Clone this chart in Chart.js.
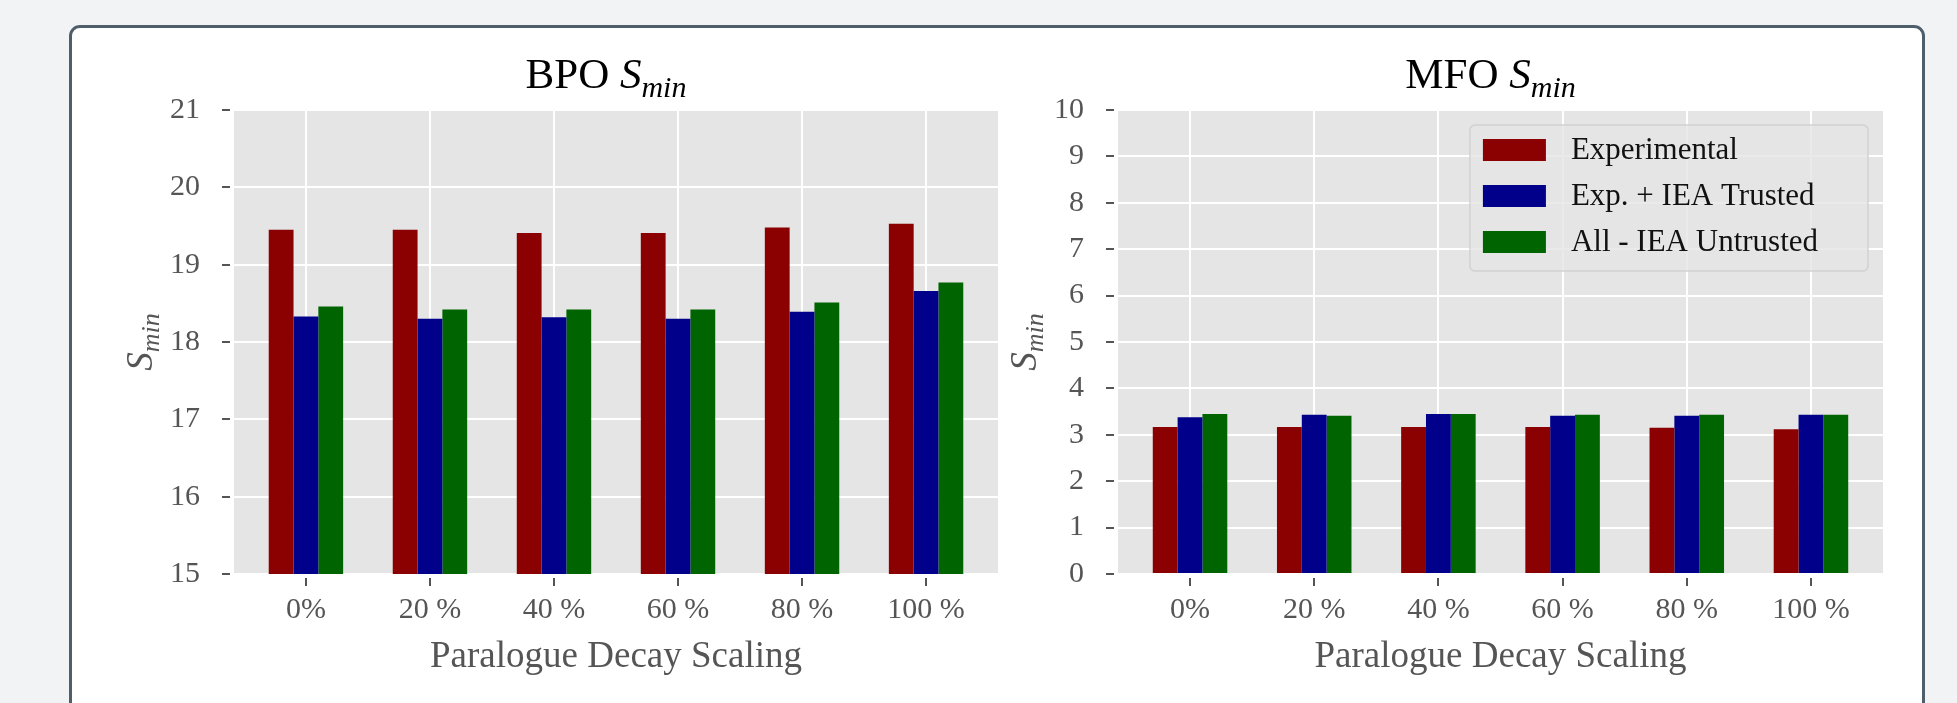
<!DOCTYPE html>
<html>
<head>
<meta charset="utf-8">
<script src="https://cdn.jsdelivr.net/npm/chart.js@4.4.1/dist/chart.umd.min.js"></script>
<style>
  html, body { margin: 0; padding: 0; background: #f2f3f5; width: 1957px; height: 703px; overflow: hidden; }
  .card { position: absolute; left: 69px; top: 25px; width: 1850px; height: 760px; background: #fff;
          border: 3px solid #4f5e6b; border-radius: 11px; }
  canvas { position: absolute; }
  #bpo { left: 80px; top: 30px; }
  #mfo { left: 1010px; top: 30px; }
</style>
</head>
<body>
<div class="card"></div>
<canvas id="bpo" width="930" height="673"></canvas>
<canvas id="mfo" width="900" height="673"></canvas>
<script>
// ── Data ──────────────────────────────────────────────────────────
const scalings     = ['0%', '20 %', '40 %', '60 %', '80 %', '100 %'];
const seriesNames  = ['Experimental', 'Exp. + IEA Trusted', 'All - IEA Untrusted'];
const seriesColors = ['#8b0000', '#00008b', '#006400'];

const bpoExperimental = [19.45, 19.45, 19.41, 19.41, 19.48, 19.53];
const bpoTrusted      = [18.33, 18.30, 18.32, 18.30, 18.39, 18.66];
const bpoUntrusted    = [18.46, 18.42, 18.42, 18.42, 18.51, 18.77];

const mfoExperimental = [3.17, 3.17, 3.17, 3.17, 3.15, 3.12];
const mfoTrusted      = [3.38, 3.43, 3.45, 3.41, 3.41, 3.43];
const mfoUntrusted    = [3.45, 3.41, 3.45, 3.43, 3.43, 3.43];

const bpoRange = [15, 21];
const mfoRange = [0, 10];

// ── Styling helpers ───────────────────────────────────────────────
const FONT  = "'Liberation Serif', 'DejaVu Serif', serif";
const GREY  = '#555555';
const PLOT_BG = '#e5e5e5';

// plot background
const bgPlugin = {
  id: 'plotBg',
  beforeDraw(chart) {
    const { ctx, chartArea: a } = chart;
    ctx.save();
    ctx.fillStyle = PLOT_BG;
    ctx.fillRect(a.left, a.top, a.right - a.left, a.bottom - a.top);
    ctx.restore();
  },
};

// draws "S" + subscript "min" starting at x, baseline y; returns width
function drawSmin(ctx, x, y, size, subSize, subDrop, measureOnly) {
  ctx.font = `italic ${size}px ${FONT}`;
  const wS = ctx.measureText('S').width;
  ctx.font = `italic ${subSize}px ${FONT}`;
  const wM = ctx.measureText('min').width;
  if (!measureOnly) {
    ctx.font = `italic ${size}px ${FONT}`;
    ctx.fillText('S', x, y);
    ctx.font = `italic ${subSize}px ${FONT}`;
    ctx.fillText('min', x + wS, y + subDrop);
  }
  return wS + wM;
}

// title "XXX S_min" above the plot
const titlePlugin = {
  id: 'sminTitle',
  afterDraw(chart, args, opts) {
    const { ctx, chartArea: a } = chart;
    ctx.save();
    ctx.fillStyle = '#000';
    ctx.textBaseline = 'alphabetic';
    ctx.textAlign = 'left';
    const pre = opts.text + ' ';
    ctx.font = `43px ${FONT}`;
    const w1 = ctx.measureText(pre).width;
    const w2 = drawSmin(ctx, 0, 0, 43, 30, 9, true);
    let x = (a.left + a.right) / 2 - (w1 + w2) / 2 - 10;
    const y = a.top - 22;
    ctx.font = `43px ${FONT}`;
    ctx.fillText(pre, x, y);
    drawSmin(ctx, x + w1, y, 43, 30, 9, false);
    ctx.restore();
  },
};

// rotated y axis label S_min
const yLabelPlugin = {
  id: 'sminYLabel',
  afterDraw(chart) {
    const { ctx, chartArea: a } = chart;
    ctx.save();
    ctx.fillStyle = GREY;
    ctx.textBaseline = 'alphabetic';
    ctx.textAlign = 'left';
    ctx.translate(a.left - 93, (a.top + a.bottom) / 2);
    ctx.rotate(-Math.PI / 2);
    const w = drawSmin(ctx, 0, 0, 37, 26, 7, true);
    drawSmin(ctx, -w / 2, 11, 37, 26, 7, false);
    ctx.restore();
  },
};

// legend inside the plot, top right
const legendPlugin = {
  id: 'insideLegend',
  afterDraw(chart, args, opts) {
    if (!opts.show) return;
    const { ctx, chartArea: a } = chart;
    const sets = chart.data.datasets;
    ctx.save();
    ctx.font = `31px ${FONT}`;
    const maxW = Math.max(...sets.map(d => ctx.measureText(d.label).width));
    const w = 101 + maxW + 50;
    const h = 146;
    const x0 = a.right - 15 - w;
    const y0 = a.top + 15;
    ctx.beginPath();
    ctx.roundRect(x0, y0, w, h, 5);
    ctx.fillStyle = 'rgba(229,229,229,0.8)';
    ctx.fill();
    ctx.strokeStyle = 'rgba(204,204,204,0.8)';
    ctx.lineWidth = 1.5;
    ctx.stroke();
    sets.forEach((d, i) => {
      const cy = y0 + 25 + i * 46;
      ctx.fillStyle = d.backgroundColor;
      ctx.fillRect(x0 + 13, cy - 11, 63, 22);
      ctx.fillStyle = '#111';
      ctx.textBaseline = 'middle';
      ctx.fillText(d.label, x0 + 101, cy + 1);
    });
    ctx.restore();
  },
};

function makeChart(id, title, values, range, yWidth, padRight, showLegend) {
  const datasets = values.map((vals, s) => ({
    label: seriesNames[s],
    data: vals.map((v, i) => ({ x: i, y: v })),
    backgroundColor: seriesColors[s],
    borderWidth: 0,
    barPercentage: 1,
    categoryPercentage: 0.6,
  }));

  return new Chart(document.getElementById(id), {
    type: 'bar',
    data: { datasets },
    plugins: [bgPlugin, titlePlugin, yLabelPlugin, legendPlugin],
    options: {
      responsive: false,
      animation: false,
      layout: { padding: { top: 80, right: padRight, left: 0, bottom: 0 } },
      plugins: {
        legend: { display: false },
        tooltip: { enabled: false },
        sminTitle: { text: title },
        insideLegend: { show: showLegend },
      },
      scales: {
        x: {
          type: 'linear',
          min: -0.58,
          max: 5.58,
          offset: false,
          afterBuildTicks: s => { s.ticks = scalings.map((_, i) => ({ value: i })); },
          afterFit: s => { s.height = 129; },
          border: { display: false },
          grid: {
            offset: false,
            color: '#ffffff', lineWidth: 2,
            tickColor: GREY, tickWidth: 2, tickLength: 12, tickBorderDash: [0, 4, 8, 100],
          },
          ticks: {
            autoSkip: false, maxRotation: 0, padding: 6, color: GREY,
            font: { family: FONT, size: 30 },
            callback: v => scalings[v],
          },
          title: {
            display: true, text: 'Paralogue Decay Scaling', color: GREY,
            font: { family: FONT, size: 37 }, padding: { top: 0, bottom: 24 },
          },
        },
        y: {
          min: range[0],
          max: range[1],
          afterFit: s => { s.width = yWidth; },
          border: { display: false },
          grid: {
            color: '#ffffff', lineWidth: 2,
            tickColor: GREY, tickWidth: 2, tickLength: 12, tickBorderDash: [8, 100],
          },
          ticks: {
            stepSize: 1, padding: 22, color: GREY,
            font: { family: FONT, size: 30 },
          },
        },
      },
    },
  });
}

makeChart('bpo', 'BPO', [bpoExperimental, bpoTrusted, bpoUntrusted], bpoRange, 154, 12, false);
makeChart('mfo', 'MFO', [mfoExperimental, mfoTrusted, mfoUntrusted], mfoRange, 108, 27, true);
</script>
</body>
</html>
